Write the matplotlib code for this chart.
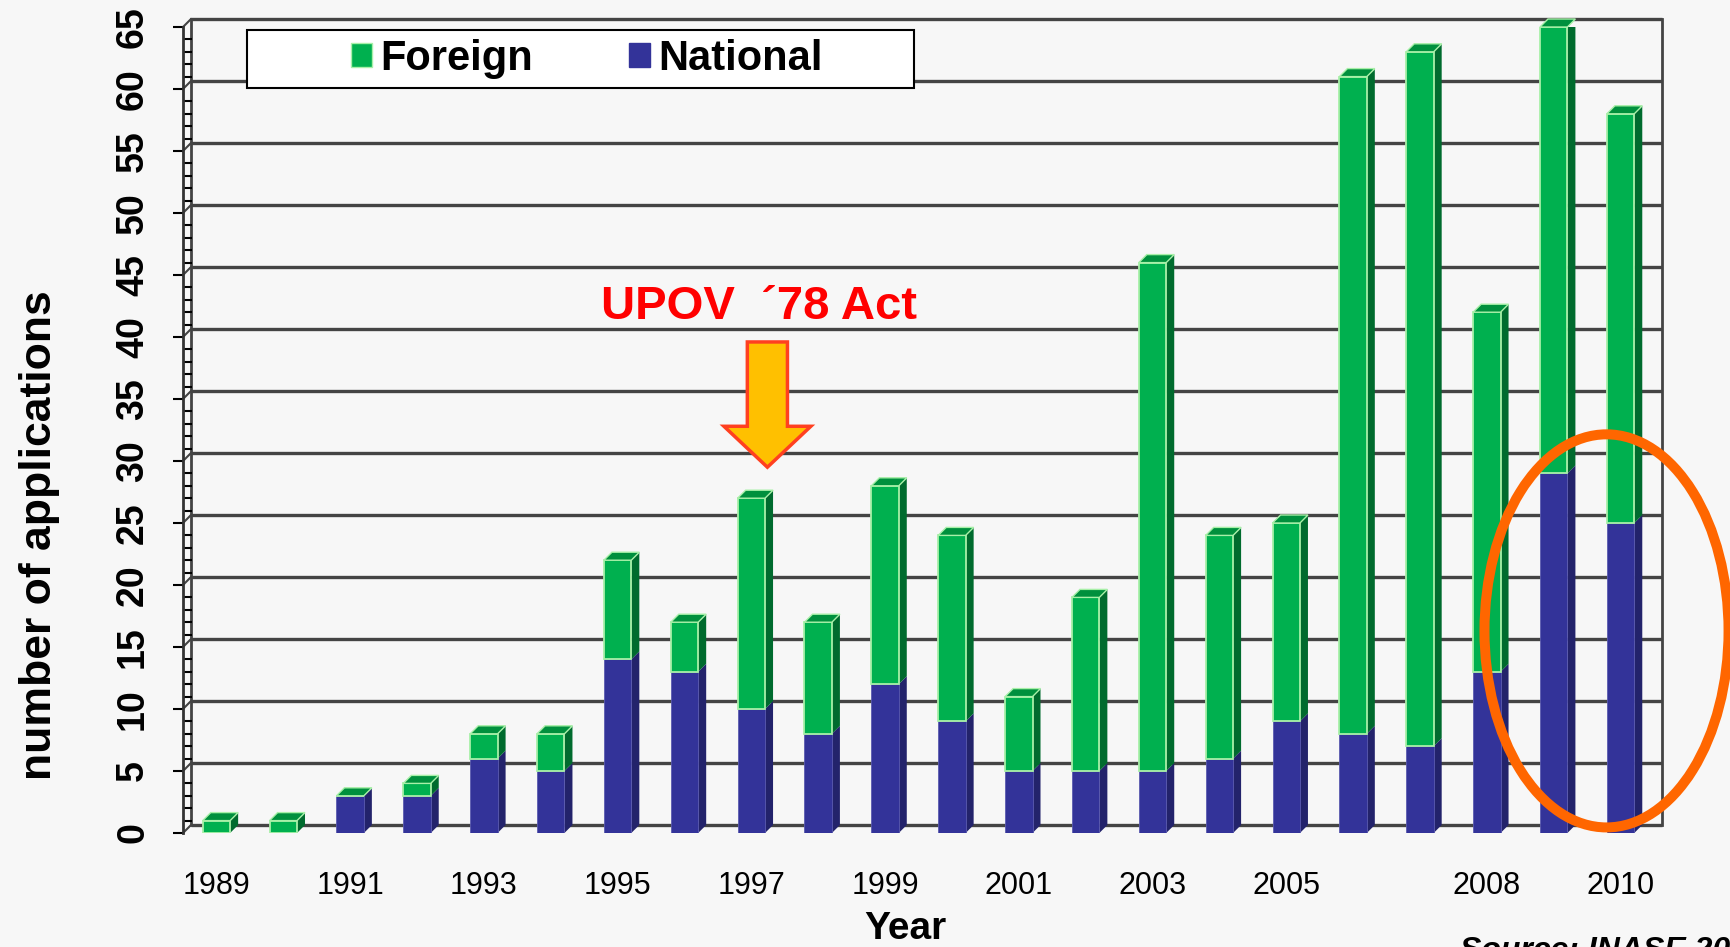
import numpy as np
import matplotlib
matplotlib.use("Agg")
import matplotlib.pyplot as plt
from matplotlib.patches import Polygon, Rectangle, Ellipse, FancyArrow, Patch
from matplotlib.ticker import MultipleLocator

plt.rcParams['font.family'] = ['Liberation Sans', 'DejaVu Sans']

# data
years = [1989, 1990, 1991, 1992, 1993, 1994, 1995, 1996, 1997, 1998, 1999,
         2000, 2001, 2002, 2003, 2004, 2005, 2006, 2007, 2008, 2009, 2010]
national = [0, 0, 3, 3, 6, 5, 14, 13, 10, 8, 12, 9, 5, 5, 5, 6, 9, 8, 7, 13, 29, 25]
foreign = [1, 1, 0, 1, 2, 3, 8, 4, 17, 9, 16, 15, 6, 14, 41, 18, 16, 53, 56, 29, 36, 33]
shown_years = [1989, 1991, 1993, 1995, 1997, 1999, 2001, 2003, 2005, 2008, 2010]
y_ticks = list(range(0, 66, 5))

GREEN = '#00b04f'
GREEN_SIDE = '#006b2e'
GREEN_TOP = '#00903d'
GREEN_EDGE = '#a8f0a8'
BLUE = '#333399'
BLUE_SIDE = '#23236b'
GRID = '#444444'
BG = '#f7f7f7'

W, H = 1730, 947
fig = plt.figure(figsize=(W / 100, H / 100), dpi=100, facecolor=BG)
ax = fig.add_axes([183 / W, 114 / H, (1654 - 183) / W, 806 / H])
ax.set_facecolor('none')
ax.set_xlim(-0.5, 21.5)
ax.set_ylim(0, 65)

# pseudo 3d depth, 8 px back and up
depth = 8
ddx = depth * 22 / (1654 - 183)
ddy = depth * 65 / 806

x = np.arange(len(years))
width = 0.41
nat = np.array(national)
tot = nat + np.array(foreign)

# back wall grid + walls
x0, x1 = -0.5, 21.5
for yv in y_ticks:
    ax.plot([x0 + ddx, x1 + ddx], [yv + ddy, yv + ddy], color=GRID, lw=2.4,
            zorder=1, clip_on=False, solid_capstyle='butt')
    ax.plot([x0, x0 + ddx], [yv, yv + ddy], color=GRID, lw=1.5, zorder=1, clip_on=False)
ax.plot([x0 + ddx, x0 + ddx], [ddy, 65 + ddy], color=GRID, lw=2, zorder=1, clip_on=False)
ax.plot([x1 + ddx, x1 + ddx], [ddy, 65 + ddy], color=GRID, lw=2, zorder=1, clip_on=False)

# front faces
ax.bar(x, nat, width, color=BLUE, edgecolor='#5b5bb0', lw=0.6, zorder=3)
ax.bar(x, foreign, width, bottom=nat, color=GREEN, edgecolor=GREEN_EDGE, lw=1.3, zorder=3)

# side and top faces
for xi, n, t in zip(x, nat, tot):
    xl, xr = xi - width / 2, xi + width / 2
    ax.add_patch(Polygon([(xr, 0), (xr + ddx, ddy), (xr + ddx, n + ddy), (xr, n)],
                         closed=True, facecolor=BLUE_SIDE, edgecolor='none', zorder=2.9))
    ax.add_patch(Polygon([(xr, n), (xr + ddx, n + ddy), (xr + ddx, t + ddy), (xr, t)],
                         closed=True, facecolor=GREEN_SIDE, edgecolor='none', zorder=2.9))
    ax.add_patch(Polygon([(xl, t), (xr, t), (xr + ddx, t + ddy), (xl + ddx, t + ddy)],
                         closed=True, facecolor=GREEN_TOP, edgecolor=GREEN_EDGE, lw=1,
                         zorder=3.1, clip_on=False))

# axes styling
for s in ['top', 'right', 'bottom']:
    ax.spines[s].set_visible(False)
ax.spines['left'].set_linewidth(2)
ax.spines['left'].set_color('#333333')
ax.set_xticks([years.index(y) for y in shown_years])
ax.set_xticklabels([str(y) for y in shown_years], fontsize=22)
ax.tick_params(axis='x', length=0, pad=27)
ax.set_yticks(y_ticks)
ax.set_yticklabels([str(v) for v in y_ticks], fontsize=27, fontweight='bold',
                   rotation=90, va='center')
ax.yaxis.set_minor_locator(MultipleLocator(1))
ax.tick_params(axis='y', which='major', direction='out', length=7, width=1.5, pad=16)
ax.tick_params(axis='y', which='minor', direction='in', length=6.5, width=1.5)

# annotation: UPOV '78 and arrow
i97 = years.index(1997)
ax.text(i97 + 0.12, 42.4, 'UPOV  \u00b478 Act', ha='center', va='center',
        color='#ff0000', fontsize=34, fontweight='bold', zorder=6)
ax.add_patch(FancyArrow(i97 + 0.24, 39.6, 0, -10.1, width=0.6, head_width=1.3,
                        head_length=3.3, length_includes_head=True,
                        facecolor='#ffc000', edgecolor='#ff4020', lw=2.5, zorder=6))

# circle round the last two years
ax.add_patch(Ellipse((20.79, 16.3), 3.65, 31.7, fill=False, edgecolor='#ff6600',
                     lw=7.2, clip_on=False, zorder=6))

# legend box
fig.add_artist(Rectangle((247 / W, 1 - 88 / H), (914 - 247) / W, 58 / H,
                         transform=fig.transFigure, facecolor='white',
                         edgecolor='black', lw=1.5, zorder=4))
handles = [Patch(facecolor=GREEN, edgecolor=GREEN_EDGE, label='Foreign'),
           Patch(facecolor=BLUE, edgecolor=BLUE, label='National')]
fig.legend(handles=handles, loc='center', bbox_to_anchor=(587 / W, 1 - 59 / H), ncol=2,
           frameon=False, prop={'size': 30, 'weight': 'bold'}, handlelength=0.5,
           handleheight=0.5, handletextpad=0.2, columnspacing=2.3)

# axis titles and source
fig.text(40 / W, 1 - 535 / H, 'number of applications', rotation=90, ha='center',
         va='center', fontsize=32, fontweight='bold')
fig.text(905 / W, 1 - 911 / H, 'Year', ha='center', va='top', fontsize=28,
         fontweight='bold')
fig.text(1460 / W, 1 - 936 / H, 'Source: INASE 2011', ha='left', va='top',
         fontsize=23, fontweight='bold', style='italic')

fig.savefig('out.png', dpi=100, facecolor=BG)
